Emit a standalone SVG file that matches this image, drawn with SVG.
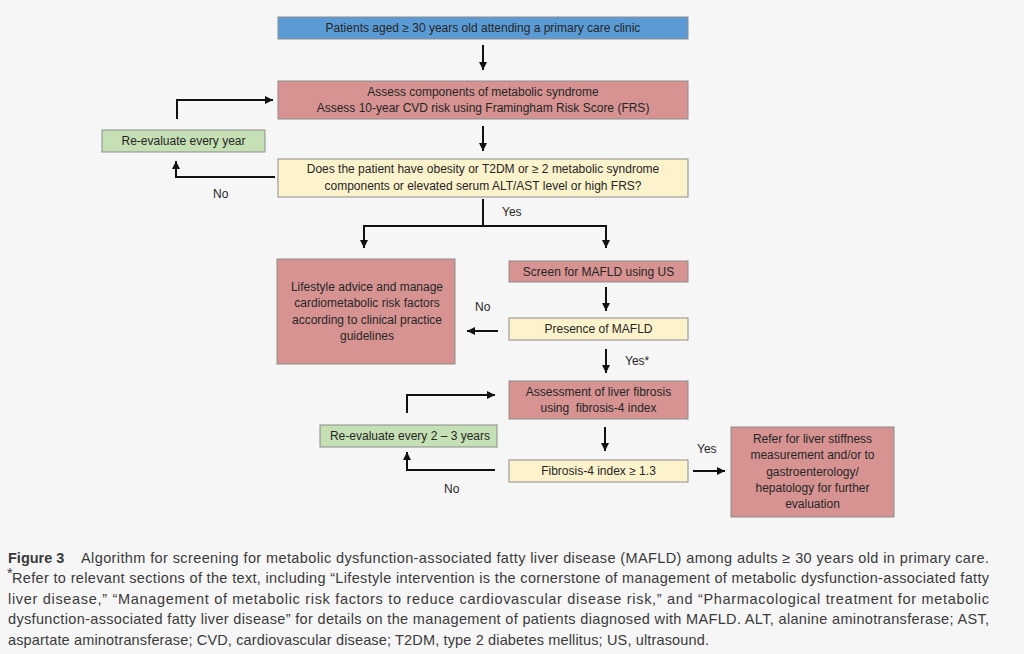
<svg xmlns="http://www.w3.org/2000/svg" width="1024" height="654" viewBox="0 0 1024 654">
<defs>
<style>
.bg{fill:#f6f6f6}
.box{stroke:#8c8c8c;stroke-width:1}
.blue{fill:#5b9bd5}
.pink{fill:#d69391}
.yellow{fill:#fcf2cc}
.green{fill:#c5e0b4}
.t{font-family:"Liberation Sans",Arial,sans-serif;font-size:12px;fill:#262626;text-anchor:middle}
.lbl{font-family:"Liberation Sans",Arial,sans-serif;font-size:12px;fill:#262626}
.cap{font-family:"Liberation Sans",Arial,sans-serif;font-size:14.5px;fill:#3a3a3a}
.ln{fill:none;stroke:#111;stroke-width:2}
</style>
<marker id="ah" markerUnits="userSpaceOnUse" markerWidth="10" markerHeight="10" refX="8" refY="4" orient="auto">
<path d="M0,0 L8,4 L0,8 Z" fill="#111"/>
</marker>
</defs>
<rect class="bg" x="0" y="0" width="1024" height="654"/>

<g id="connectors">
<path class="ln" d="M483,45 V70" marker-end="url(#ah)"/>
<path class="ln" d="M483,126 V151" marker-end="url(#ah)"/>
<path class="ln" d="M275,177 H176 V161" marker-end="url(#ah)"/>
<path class="ln" d="M177,119 V100 H273" marker-end="url(#ah)"/>
<path class="ln" d="M483,199 V226"/>
<path class="ln" d="M364,226 H606"/>
<path class="ln" d="M364,225 V248" marker-end="url(#ah)"/>
<path class="ln" d="M606,225 V248" marker-end="url(#ah)"/>
<path class="ln" d="M606,287 V311" marker-end="url(#ah)"/>
<path class="ln" d="M498,331 H467" marker-end="url(#ah)"/>
<path class="ln" d="M606,349 V373" marker-end="url(#ah)"/>
<path class="ln" d="M407,413 V395 H495" marker-end="url(#ah)"/>
<path class="ln" d="M605,427 V451" marker-end="url(#ah)"/>
<path class="ln" d="M495,470 H407 V452" marker-end="url(#ah)"/>
<path class="ln" d="M693,471 H725" marker-end="url(#ah)"/>
<text class="lbl" x="213" y="198">No</text>
<text class="lbl" x="502" y="216">Yes</text>
<text class="lbl" x="475" y="311">No</text>
<text class="lbl" x="625" y="365">Yes*</text>
<text class="lbl" x="697" y="453">Yes</text>
<text class="lbl" x="444" y="493">No</text>
</g>

<g id="n1">
<rect class="box blue" x="278" y="17" width="410" height="22"/>
<text class="t" x="483" y="32">Patients aged ≥ 30 years old attending a primary care clinic</text>
</g>
<g id="n2">
<rect class="box pink" x="278" y="81" width="410" height="38"/>
<text class="t" x="483" y="96">Assess components of metabolic syndrome</text>
<text class="t" x="483" y="112">Assess 10-year CVD risk using Framingham Risk Score (FRS)</text>
</g>
<g id="n3">
<rect class="box yellow" x="278" y="159" width="410" height="38"/>
<text class="t" x="483" y="173">Does the patient have obesity or T2DM or ≥ 2 metabolic syndrome</text>
<text class="t" x="483" y="190">components or elevated serum ALT/AST level or high FRS?</text>
</g>
<g id="n4">
<rect class="box green" x="102" y="130" width="163" height="22"/>
<text class="t" x="183.5" y="145">Re-evaluate every year</text>
</g>
<g id="n5">
<rect class="box pink" x="277" y="259" width="178" height="105"/>
<text class="t" x="367" y="291">Lifestyle advice and manage</text>
<text class="t" x="367" y="307">cardiometabolic risk factors</text>
<text class="t" x="367" y="324">according to clinical practice</text>
<text class="t" x="367" y="340">guidelines</text>
</g>
<g id="n6">
<rect class="box pink" x="509" y="261" width="179" height="21"/>
<text class="t" x="598.5" y="275.5">Screen for MAFLD using US</text>
</g>
<g id="n7">
<rect class="box yellow" x="509" y="318" width="179" height="22"/>
<text class="t" x="598.5" y="333">Presence of MAFLD</text>
</g>
<g id="n8">
<rect class="box pink" x="509" y="381" width="179" height="38"/>
<text class="t" x="598.5" y="396">Assessment of liver fibrosis</text>
<text class="t" x="598.5" y="412" xml:space="preserve">using  fibrosis-4 index</text>
</g>
<g id="n9">
<rect class="box green" x="320" y="425" width="177" height="22"/>
<text class="t" x="410" y="440">Re-evaluate every 2 – 3 years</text>
</g>
<g id="n10">
<rect class="box yellow" x="509" y="460" width="179" height="22"/>
<text class="t" x="598.5" y="475">Fibrosis-4 index ≥ 1.3</text>
</g>
<g id="n11">
<rect class="box pink" x="731" y="427" width="163" height="90"/>
<text class="t" x="812.5" y="443">Refer for liver stiffness</text>
<text class="t" x="812.5" y="459">measurement and/or to</text>
<text class="t" x="812.5" y="476">gastroenterology/</text>
<text class="t" x="812.5" y="492">hepatology for further</text>
<text class="t" x="812.5" y="508">evaluation</text>
</g>

<g id="caption">
<text class="cap" x="8" y="563" font-weight="bold" fill="#222">Figure 3</text>
<text class="cap" x="81" y="563" textLength="908" lengthAdjust="spacing">Algorithm for screening for metabolic dysfunction-associated fatty liver disease (MAFLD) among adults ≥ 30 years old in primary care.</text>
<text class="cap" x="7" y="578" font-size="9px">*</text>
<text class="cap" x="12" y="583" textLength="977" lengthAdjust="spacing">Refer to relevant sections of the text, including “Lifestyle intervention is the cornerstone of management of metabolic dysfunction-associated fatty</text>
<text class="cap" x="8" y="604" textLength="981" lengthAdjust="spacing">liver disease,” “Management of metabolic risk factors to reduce cardiovascular disease risk,” and “Pharmacological treatment for metabolic</text>
<text class="cap" x="8" y="624" textLength="981" lengthAdjust="spacing">dysfunction-associated fatty liver disease” for details on the management of patients diagnosed with MAFLD. ALT, alanine aminotransferase; AST,</text>
<text class="cap" x="8" y="645" textLength="701" lengthAdjust="spacing">aspartate aminotransferase; CVD, cardiovascular disease; T2DM, type 2 diabetes mellitus; US, ultrasound.</text>
</g>
</svg>
